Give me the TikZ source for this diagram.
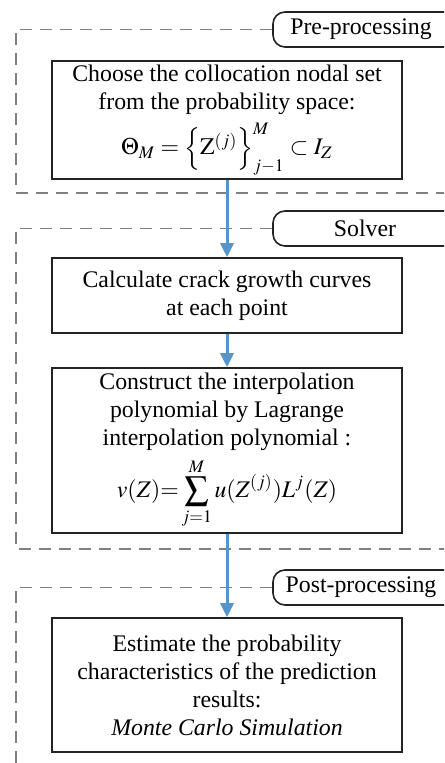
\documentclass[tikz,border=0pt]{standalone}
\usepackage{amsmath}
\usepackage{mathptmx}
\usepackage{fontspec}
\setmainfont{Liberation Serif}
\usetikzlibrary{arrows.meta,positioning,calc}
\definecolor{FlowBlue}{RGB}{84,150,204}
\definecolor{FrameGray}{RGB}{128,128,128}
\definecolor{BoxDark}{RGB}{35,35,35}
\tikzset{
  stepbox/.style={draw=BoxDark, line width=0.8pt, fill=white, align=center,
                  minimum width=175pt, inner xsep=3pt, inner ysep=2pt,
                  font=\fontsize{11.9}{14}\selectfont},
  stagelabel/.style={draw=BoxDark, line width=0.8pt, fill=white, rounded corners=6pt,
                  minimum width=92pt, minimum height=17.5pt, inner sep=0pt,
                  font=\fontsize{11.9}{13}\selectfont},
  stageframe/.style={draw=FrameGray, line width=0.75pt, dash pattern=on 6pt off 4pt},
  flow/.style={-{Triangle[width=6.5pt, length=7pt]}, line width=1.5pt, FlowBlue},
}

\begin{document}
\begin{tikzpicture}[x=0.5pt, y=-0.5pt]
  \clip (0,0) rectangle (444,763);
  \fill[white] (0,0) rectangle (444,763);

  % Etapas
  \node[stagelabel] (pre)  at (365,29.5)  {\hspace*{-4pt}Pre-processing};
  \node[stagelabel] (solv) at (365,228.5) {Solver};
  \node[stagelabel] (post) at (365,587.5) {\hspace*{-4pt}Post-processing};
  \draw[stageframe] (pre.west)  -| (16,193) -- (470,193);
  \draw[stageframe] (solv.west) -| (16,549) -- (470,549);
  \draw[stageframe] (post.west) -| (16,770);

  % Passos
  \node[stepbox, minimum height=58pt] (choose) at (227,120)
    {Choose the collocation nodal set\\
     from the probability space:\\[3pt]
     $\Theta_M=\Bigl\{\mathrm{Z}^{(j)}\Bigr\}_{j-1}^{M}\subset I_Z$};
  \node[stepbox, minimum height=37.5pt] (calc) at (227,295.5)
    {Calculate crack growth curves\\at each point};
  \node[stepbox, minimum height=82.5pt] (lagr) at (227,450.5)
    {Construct the interpolation\\
     polynomial by Lagrange\\
     interpolation polynomial :\\[3pt]
     $\displaystyle v(Z){=}\sum_{j=1}^{M}u(Z^{(j)})L^{j}(Z)$};
  \node[stepbox, minimum height=67pt] (estim) at (227,685)
    {Estimate the probability\\
     characteristics of the prediction\\
     results:\\
     \textit{Monte Carlo Simulation}};

  % Setas
  \draw[flow] (choose) -- (calc);
  \draw[flow] (calc) -- (lagr);
  \draw[flow] (lagr) -- (estim);
\end{tikzpicture}
\end{document}
